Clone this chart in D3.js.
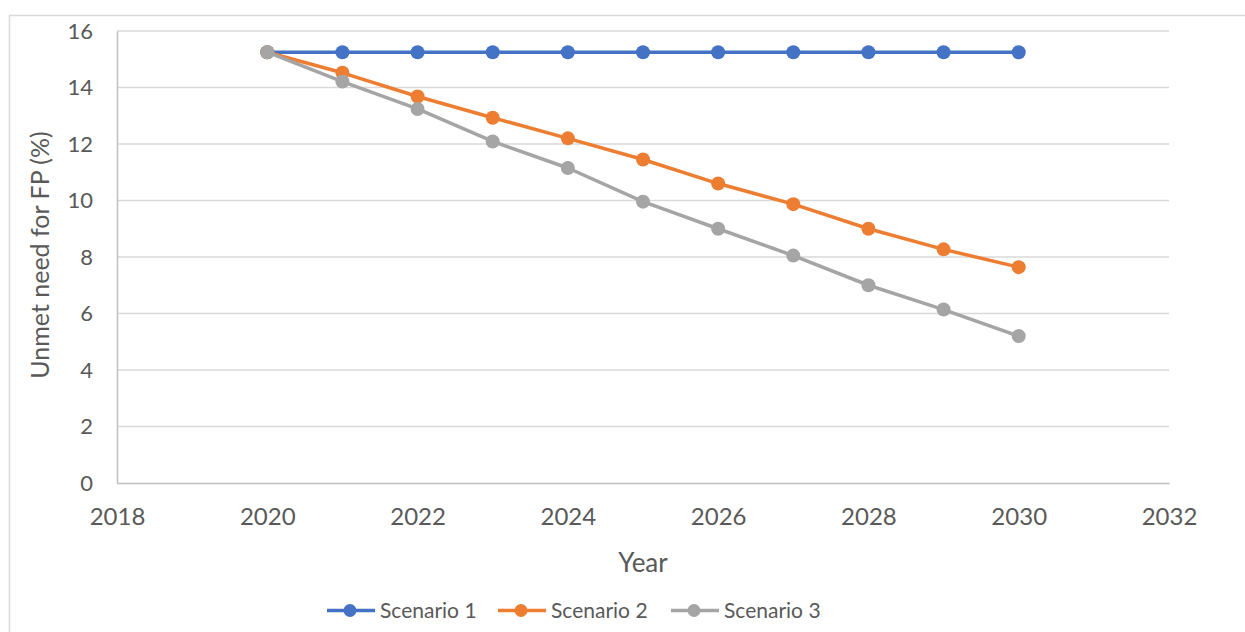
<!DOCTYPE html>
<html>
<head>
<meta charset="utf-8">
<script src="https://cdn.jsdelivr.net/npm/d3@7"></script>
<style>
  html, body { margin: 0; padding: 0; background: #fff; }
  svg { display: block; }
</style>
</head>
<body>
<svg id="chart" width="1245" height="632"></svg>
<script>
const years = [2020, 2021, 2022, 2023, 2024, 2025, 2026, 2027, 2028, 2029, 2030];
const scenario1 = [15.25, 15.25, 15.25, 15.25, 15.25, 15.25, 15.25, 15.25, 15.25, 15.25, 15.25];
const scenario2 = [15.25, 14.52, 13.68, 12.93, 12.2, 11.45, 10.6, 9.87, 9.0, 8.27, 7.64];
const scenario3 = [15.25, 14.21, 13.24, 12.09, 11.15, 9.96, 9.0, 8.05, 7.0, 6.14, 5.2];
const seriesNames = ["Scenario 1", "Scenario 2", "Scenario 3"];
const xTicks = [2018, 2020, 2022, 2024, 2026, 2028, 2030, 2032];
const yTicks = [0, 2, 4, 6, 8, 10, 12, 14, 16];
const xTitle = "Year";
const yTitle = "Unmet need for FP (%)";

const colors = ["#4472C4", "#ED7D31", "#A5A5A5"];
const allSeries = [scenario1, scenario2, scenario3];
const font = "Lato, 'Open Sans', sans-serif";
const textColor = "#595959";

const svg = d3.select("#chart");
const m = { left: 117, right: 1169, top: 31, bottom: 483 };

const x = d3.scaleLinear().domain([2018, 2032]).range([m.left, m.right]);
const y = d3.scaleLinear().domain([0, 16]).range([m.bottom, m.top]);

// outer chart border (top and left visible)
svg.append("rect")
  .attr("x", 9.5).attr("y", 15.5)
  .attr("width", 1300).attr("height", 700)
  .attr("fill", "none").attr("stroke", "#D9D9D9").attr("stroke-width", 1.5);

// gridlines
svg.append("g")
  .selectAll("line")
  .data(yTicks.filter(d => d > 0))
  .join("line")
  .attr("x1", m.left).attr("x2", m.right)
  .attr("y1", d => y(d)).attr("y2", d => y(d))
  .attr("stroke", "#D9D9D9").attr("stroke-width", 1.5);

// y axis
const yAxis = svg.append("g")
  .attr("transform", `translate(${m.left},0)`)
  .call(d3.axisLeft(y).tickValues(yTicks).tickSize(0).tickPadding(24).tickFormat(d3.format("d")));
yAxis.select(".domain").attr("stroke", "#BFBFBF").attr("stroke-width", 1.5);
yAxis.selectAll("text").attr("font-family", font).attr("font-size", 22).attr("fill", textColor);

// x axis
const xAxis = svg.append("g")
  .attr("transform", `translate(0,${m.bottom})`)
  .call(d3.axisBottom(x).tickValues(xTicks).tickSize(0).tickPadding(25).tickFormat(d3.format("d")));
xAxis.select(".domain").attr("stroke", "#BFBFBF").attr("stroke-width", 1.5);
xAxis.selectAll("text").attr("font-family", font).attr("font-size", 24).attr("fill", textColor);

// axis titles
svg.append("text")
  .attr("x", 643).attr("y", 572)
  .attr("text-anchor", "middle")
  .attr("font-family", font).attr("font-size", 26).attr("fill", textColor)
  .text(xTitle);

svg.append("text")
  .attr("transform", "translate(49,255) rotate(-90)")
  .attr("text-anchor", "middle")
  .attr("font-family", font).attr("font-size", 25).attr("fill", textColor)
  .text(yTitle);

// lines and markers
const line = d3.line().x((d, i) => x(years[i])).y(d => y(d));
allSeries.forEach((vals, si) => {
  const g = svg.append("g");
  g.append("path")
    .datum(vals)
    .attr("d", line)
    .attr("fill", "none")
    .attr("stroke", colors[si])
    .attr("stroke-width", 3.5)
    .attr("stroke-linejoin", "round");
  g.selectAll("circle")
    .data(vals)
    .join("circle")
    .attr("cx", (d, i) => x(years[i]))
    .attr("cy", d => y(d))
    .attr("r", 7)
    .attr("fill", colors[si]);
});

// legend
const legendX = [327, 498, 671];
const legendY = 610.5;
seriesNames.forEach((name, i) => {
  const g = svg.append("g").attr("transform", `translate(${legendX[i]},${legendY})`);
  g.append("line").attr("x1", 0).attr("x2", 48).attr("y1", 0).attr("y2", 0)
    .attr("stroke", colors[i]).attr("stroke-width", 3.5);
  g.append("circle").attr("cx", 23).attr("cy", 0).attr("r", 6.5).attr("fill", colors[i]);
  g.append("text").attr("x", 53).attr("y", 0).attr("dy", "0.35em")
    .attr("font-family", font).attr("font-size", 21).attr("fill", textColor)
    .text(name);
});
</script>
</body>
</html>
